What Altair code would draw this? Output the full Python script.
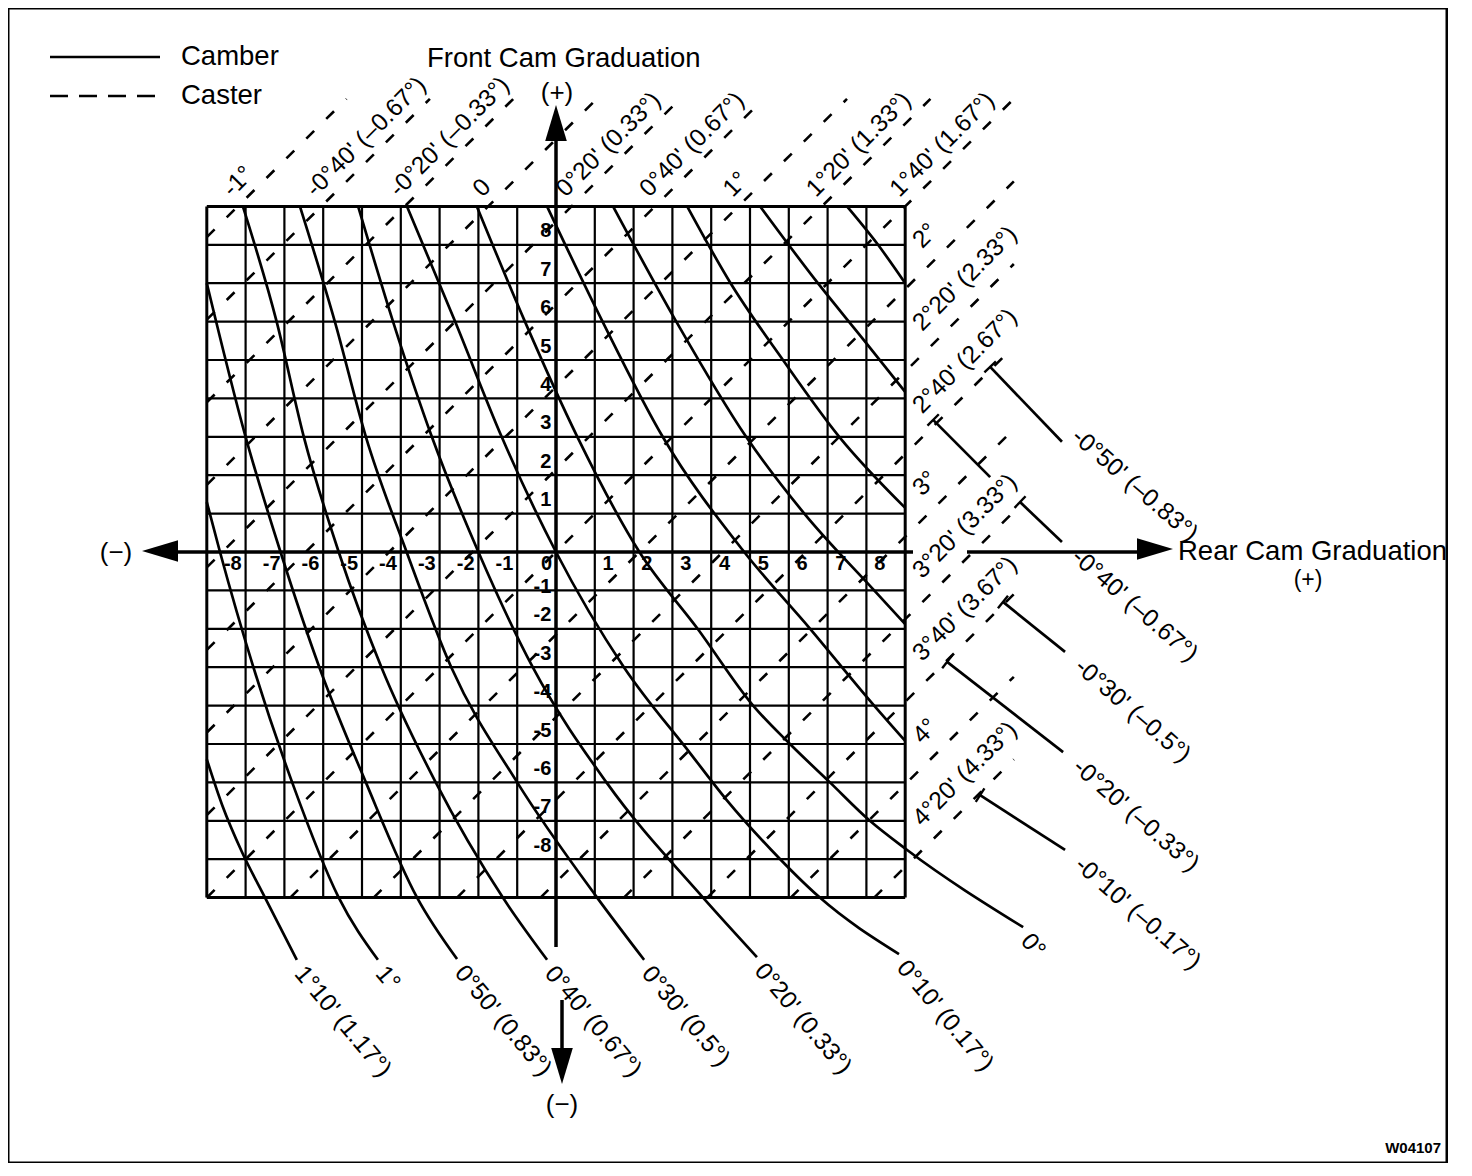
import altair as alt
import pandas as pd
import math

# ---------------------------------------------------------------
# values (all in cam graduations)
# ---------------------------------------------------------------
grid_steps = list(range(-9, 10))
tick_values = list(range(-8, 9))

caster_index = list(range(8, -9, -1))
caster_text = ["-1°", "-0°40' (–0.67°)", "-0°20' (–0.33°)", "0", "0°20' (0.33°)",
               "0°40' (0.67°)", "1°", "1°20' (1.33°)", "1°40' (1.67°)", "2°",
               "2°20' (2.33°)", "2°40' (2.67°)", "3°", "3°20' (3.33°)",
               "3°40' (3.67°)", "4°", "4°20' (4.33°)"]
caster_spacing = 2.15   # (front - rear) graduations between 20' caster lines

camber_text = ["1°10' (1.17°)", "1°", "0°50' (0.83°)", "0°40' (0.67°)", "0°30' (0.5°)",
               "0°20' (0.33°)", "0°10' (0.17°)", "0°", "-0°10' (–0.17°)",
               "-0°20' (–0.33°)", "-0°30' (–0.5°)", "-0°40' (–0.67°)", "-0°50' (–0.83°)"]
camber_rear = [
    [-9.0, -8.6, -8.1, -7.5, -6.68],
    [-9.0, -8.66, -7.8, -6.8, -5.6, -4.59],
    [-9.0, -8.0, -7.1, -6.1, -4.9, -3.58, -2.55],
    [-8.07, -7.2, -6.5, -5.6, -4.5, -3.1, -1.37, -0.23],
    [-6.6, -5.7, -4.9, -3.85, -2.7, -1.0, 1.06, 2.27],
    [-5.1, -4.2, -3.2, -2.0, -0.6, 1.3, 3.79, 5.18],
    [-3.84, -2.6, -1.4, 0.0, 1.75, 3.45, 4.4, 5.55, 6.8, 8.84],
    [-2.04, -0.8, 0.55, 2.15, 3.65, 5.08, 6.03, 7.06, 8.09, 9.05, 12.04],
    [-0.23, 1.2, 2.75, 4.85, 6.55, 8.2, 9.0],
    [1.47, 3.1, 4.9, 6.4, 8.2, 9.0],
    [3.38, 4.5, 5.85, 7.3, 9.0],
    [5.26, 6.75, 7.95, 9.0],
    [7.5, 8.3, 9.0],
]
camber_front = [
    [-5.4, -6.6, -7.8, -9.0, -10.62],
    [1.3, 0.0, -3.0, -6.0, -9.0, -10.62],
    [7.0, 3.0, 0.0, -3.0, -6.0, -9.0, -10.6],
    [9.0, 6.0, 3.0, 0.0, -3.0, -6.0, -9.0, -10.62],
    [9.0, 6.0, 3.0, 0.0, -3.0, -6.0, -9.0, -10.62],
    [9.0, 6.0, 3.0, 0.0, -3.0, -6.0, -9.0, -10.55],
    [9.0, 6.0, 3.0, 0.0, -3.0, -5.23, -6.46, -7.76, -9.0, -10.47],
    [9.0, 6.0, 3.0, 0.0, -2.0, -4.0, -5.0, -6.0, -7.0, -7.76, -9.77],
    [9.0, 6.0, 3.0, 0.0, -2.0, -4.0, -4.92],
    [9.0, 6.0, 3.0, 1.0, -1.0, -1.88],
    [9.0, 7.0, 5.0, 3.0, 1.15],
    [9.0, 7.0, 5.5, 4.17],
    [9.0, 8.0, 7.0],
]
# pieces of the negative-camber curves drawn outside the graticule
outer_curve = [12, 11, 11, 10, 9, 8]
outer_rear_a = [11.19, 9.72, 11.96, 11.52, 10.08, 10.93]
outer_front_a = [4.82, 3.44, 1.30, -1.30, -2.86, -6.33]
outer_rear_b = [13.04, 11.19, 13.04, 13.12, 13.07, 13.12]
outer_front_b = [2.87, 1.95, 0.26, -2.60, -5.21, -7.76]

# ---------------------------------------------------------------
# layout
# ---------------------------------------------------------------
W, H = 1439, 1155
OX, OY = 548.0, 544.0      # plot position of graduation (0, 0)
SX, SY = 38.8, 38.4        # pixels per graduation
FONT = "Liberation Sans"
LABEL_SIZE = 24.5
XS = alt.Scale(domain=[-OX / SX, (W - OX) / SX], nice=False, zero=False)
YS = alt.Scale(domain=[(OY - H) / SY, OY / SY], nice=False, zero=False)
label_nudge = {12: (0, -20)}   # pixel nudges of individual camber labels


def gx(px):
    return (px - 8 - OX) / SX


def gy(py):
    return (OY - (py - 8)) / SY


def X(f="x"):
    return alt.X(f"{f}:Q", scale=XS, axis=None)


def Y(f="y"):
    return alt.Y(f"{f}:Q", scale=YS, axis=None)


def rules(df, width, dash=None):
    kw = dict(color="black", strokeWidth=width)
    if dash:
        kw["strokeDash"] = dash
    return alt.Chart(df).mark_rule(**kw).encode(x=X(), y=Y(), x2="x2:Q", y2="y2:Q")


def texts(df, size, align="left", baseline="middle", angle=0, weight="normal"):
    return alt.Chart(df).mark_text(font=FONT, fontSize=size, align=align, baseline=baseline,
                                   angle=angle, fontWeight=weight, color="black").encode(
        x=X(), y=Y(), text="t:N")


layers = []

# graticule
inner = [v for v in grid_steps if abs(v) not in (0, 9)]
vg = pd.DataFrame({"x": inner, "x2": inner, "y": -9, "y2": 9})
hg = pd.DataFrame({"y": inner, "y2": inner, "x": -9, "x2": 9})
layers += [rules(vg, 2.2), rules(hg, 2.2)]
border = pd.DataFrame({"x": [-9, 9, -9, -9], "x2": [-9, 9, 9, 9],
                       "y": [-9, -9, -9, 9], "y2": [9, 9, -9, 9]})
layers.append(rules(border, 3))

# caster lines (dashed, 45 deg)
crow, clab_top, clab_right = [], [], []
for k, t in zip(caster_index, caster_text):
    c = caster_spacing * k
    ent = (max(-9, -9 - c), max(-9, c - 9))
    ex = (min(9, 9 - c), min(9, 9 + c))
    end = (ex[0] + 2.8, ex[1] + 2.8)
    for o, p in enumerate([ent, ex, end]):
        crow.append({"k": k, "o": o, "x": p[0], "y": p[1]})
    expx, expy = OX + SX * ex[0], OY - SY * ex[1]
    if k >= 0:
        a, p = 2, 17
    else:
        a, p = 40, 23
    ax = expx + 0.7071 * a - 0.7071 * p
    ay = expy - 0.7071 * a - 0.7071 * p
    row = {"x": (ax - OX) / SX, "y": (OY - ay) / SY, "t": t}
    (clab_top if k >= 0 else clab_right).append(row)
caster_df = pd.DataFrame(crow)
layers.append(alt.Chart(caster_df).mark_line(color="black", strokeWidth=2.6,
                                             strokeDash=[11, 17]).encode(
    x=X(), y=Y(), detail="k:N", order="o:Q"))

# camber curves
rows = []
for i, (rs, fs) in enumerate(zip(camber_rear, camber_front)):
    for j, (r, f) in enumerate(zip(rs, fs)):
        rows.append({"c": i, "o": j, "x": r, "y": f})
camber_df = pd.DataFrame(rows)
layers.append(alt.Chart(camber_df).mark_line(color="black", strokeWidth=2.7,
                                             interpolate="monotone").encode(
    x=X(), y=Y(), detail="c:N", order="o:Q"))

outer_df = pd.DataFrame({"x": outer_rear_a, "y": outer_front_a,
                         "x2": outer_rear_b, "y2": outer_front_b})
layers.append(rules(outer_df, 2.7))

# start ticks of the outer pieces
trows = []
for r1, f1, r2, f2 in zip(outer_rear_a, outer_front_a, outer_rear_b, outer_front_b):
    dxp, dyp = (r2 - r1) * SX, -(f2 - f1) * SY
    L = math.hypot(dxp, dyp)
    px_, py_ = -dyp / L, dxp / L
    h = 8
    trows.append({"x": r1 - px_ * h / SX, "y": f1 + py_ * h / SY,
                  "x2": r1 + px_ * h / SX, "y2": f1 - py_ * h / SY})
layers.append(rules(pd.DataFrame(trows), 2.4))

# axes
axes = pd.DataFrame({
    "x": [0, gx(175), gx(967), gx(562)],
    "x2": [0, gx(913), gx(1140), gx(562)],
    "y": [gy(138), 0, 0, gy(1000)],
    "y2": [gy(947), 0, 0, gy(1050)],
})
layers.append(rules(axes, 3.5))

ARROW = "M0,-1L0.6,1L-0.6,1Z"
for (cx, cy, ang) in [(556, 123, 0), (562, 1066, 180), (160, 551, 270), (1155, 549, 90)]:
    layers.append(alt.Chart(pd.DataFrame({"x": [gx(cx)], "y": [gy(cy)]})).mark_point(
        shape=ARROW, size=1296, filled=True, color="black", opacity=1, angle=ang,
        strokeWidth=0).encode(x=X(), y=Y()))

# legend
leg = pd.DataFrame({"x": [gx(50)], "x2": [gx(160)], "y": [gy(57)], "y2": [gy(57)]})
layers.append(rules(leg, 2.4))
leg2 = pd.DataFrame({"x": [gx(50)], "x2": [gx(160)], "y": [gy(96)], "y2": [gy(96)]})
layers.append(rules(leg2, 2.4, dash=[18, 11]))

# graduation numbers
hx_neg = pd.DataFrame({"x": [v - 0.1 for v in tick_values if v <= 0],
                       "y": -0.05, "t": [str(v) for v in tick_values if v <= 0]})
hx_pos = pd.DataFrame({"x": [v + 0.2 for v in tick_values if v > 0],
                       "y": -0.05, "t": [str(v) for v in tick_values if v > 0]})
vy = pd.DataFrame({"x": -0.12,
                   "y": [v + (0.08 if v == -1 else 0.35) for v in tick_values if v != 0],
                   "t": [str(v) for v in tick_values if v != 0]})
layers += [texts(hx_neg, 20, align="right", baseline="top", weight="bold"),
           texts(hx_pos, 20, align="left", baseline="top", weight="bold"),
           texts(vy, 20, align="right", baseline="middle", weight="bold")]

# caster labels
layers.append(texts(pd.DataFrame(clab_top), LABEL_SIZE, angle=315))
layers.append(texts(pd.DataFrame(clab_right), LABEL_SIZE, angle=315))

# camber labels
bot, right = [], []
for i, t in enumerate(camber_text):
    nx, ny = label_nudge.get(i, (0, 0))
    if i <= 7:
        r, f = camber_rear[i][-1], camber_front[i][-1]
        bot.append({"x": r + (2 + nx) / SX, "y": f - (10 + ny) / SY, "t": t})
    else:
        js = [j for j, c in enumerate(outer_curve) if c == i]
        j = max(js, key=lambda q: outer_rear_b[q])
        r, f = outer_rear_b[j], outer_front_b[j]
        right.append({"x": r + (13 + nx) / SX, "y": f - (12 + ny) / SY, "t": t})
layers.append(texts(pd.DataFrame(bot), LABEL_SIZE, angle=50))
layers.append(texts(pd.DataFrame(right), LABEL_SIZE, angle=41))

# titles
layers.append(texts(pd.DataFrame({
    "x": [gx(181), gx(181), gx(427), gx(1178)],
    "y": [gy(57), gy(96), gy(59), gy(552)],
    "t": ["Camber", "Caster", "Front Cam Graduation", "Rear Cam Graduation"]}), 27.5))
layers.append(texts(pd.DataFrame({
    "x": [gx(557), gx(116), gx(562)],
    "y": [gy(93), gy(553), gy(1105)],
    "t": ["(+)", "(−)", "(−)"]}), 26, align="center"))
layers.append(texts(pd.DataFrame({"x": [gx(1308)], "y": [gy(580)], "t": ["(+)"]}),
                    23, align="center"))
layers.append(texts(pd.DataFrame({"x": [gx(1441)], "y": [gy(1148)], "t": ["W04107"]}),
                    15, align="right", weight="bold"))

chart = alt.layer(*layers).properties(width=W, height=H, padding=0, background="white"
                                      ).configure_view(stroke="black", strokeWidth=3)
chart.save("out.html", embed_options={"renderer": "svg", "actions": False})
